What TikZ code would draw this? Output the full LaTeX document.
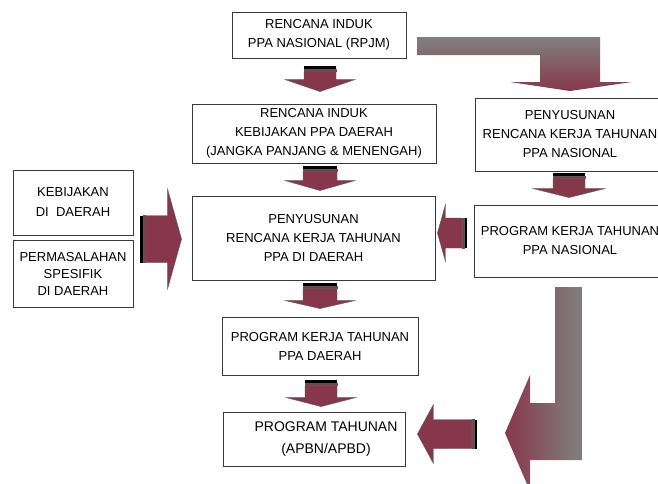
\documentclass[tikz,border=0pt]{standalone}
\usepackage{fontspec}
\setmainfont{Liberation Sans}
\usetikzlibrary{calc}
\definecolor{arrowMaroon}{HTML}{87374B}
\definecolor{arrowGray}{HTML}{808080}
\definecolor{boxLine}{HTML}{3A3A3A}
\tikzset{
    pbox/.style={draw=boxLine, line width=0.9pt, fill=white, align=center, inner sep=0pt, text=black, font=\fontsize{13}{19}\selectfont},
    pfill/.style={fill=arrowMaroon, draw=black!65, line width=0.4pt, line join=miter}
}
% striped block arrow: tail, tip, half shaft, half head, head length
\newcommand{\blockarrow}[5]{%
    \coordinate (bt) at #1;
    \coordinate (bh) at #2;
    \coordinate (s1) at ($(bt)!2.5pt!(bh)$);
    \coordinate (s2) at ($(bt)!3.1pt!(bh)$);
    \coordinate (s3) at ($(bt)!4.6pt!(bh)$);
    \coordinate (s4) at ($(bt)!5.2pt!(bh)$);
    \coordinate (bb) at ($(bh)!#5!(bt)$);
    \fill[black] ($(bt)!#3!90:(bh)$) -- ($(s1)!#3!90:(bh)$) -- ($(s1)!#3!-90:(bh)$) -- ($(bt)!#3!-90:(bh)$) -- cycle;
    \filldraw[pfill] ($(s2)!#3!90:(bh)$) -- ($(s3)!#3!90:(bh)$) -- ($(s3)!#3!-90:(bh)$) -- ($(s2)!#3!-90:(bh)$) -- cycle;
    \filldraw[pfill] ($(s4)!#3!90:(bh)$) -- ($(bb)!#3!90:(bh)$) -- ($(bb)!#4!90:(bh)$) -- (bh)
        -- ($(bb)!#4!-90:(bh)$) -- ($(bb)!#3!-90:(bh)$) -- ($(s4)!#3!-90:(bh)$) -- cycle;
}

\begin{document}
\begin{tikzpicture}[x=1pt, y=-1pt]
    \useasboundingbox (0,0) rectangle (658,483);
    \clip (0,0) rectangle (658,483);

    % boxes
    \node[pbox, minimum width=174pt, minimum height=46pt] (b1) at (319,35) {RENCANA INDUK\\PPA NASIONAL (RPJM)};
    \node[pbox, minimum width=244pt, minimum height=59pt] (b2) at (314,133.5) {RENCANA INDUK\\KEBIJAKAN PPA DAERAH\\(JANGKA PANJANG \& MENENGAH)};
    \node[pbox, minimum width=190pt, minimum height=73pt] (b3) at (570,134.5) {PENYUSUNAN\\RENCANA KERJA TAHUNAN\\PPA NASIONAL};
    \node[pbox, minimum width=191pt, minimum height=72pt] (b4) at (570,241) {PROGRAM KERJA TAHUNAN\\PPA NASIONAL};
    \node[pbox, minimum width=243pt, minimum height=84pt] (b5) at (313.5,238) {PENYUSUNAN\\RENCANA KERJA TAHUNAN\\PPA DI DAERAH};
    \node[pbox, minimum width=120pt, minimum height=65pt, font=\fontsize{13}{20}\selectfont] (b6) at (73,202.5) {KEBIJAKAN\\DI\ \ DAERAH};
    \node[pbox, minimum width=120pt, minimum height=67pt, font=\fontsize{13}{17}\selectfont] (b7) at (73,273.5) {PERMASALAHAN\\SPESIFIK\\DI DAERAH};
    \node[pbox, minimum width=196pt, minimum height=58pt] (b8) at (320,346) {PROGRAM KERJA TAHUNAN\\PPA DAERAH};
    \node[pbox, minimum width=182pt, minimum height=54pt, font=\fontsize{14}{22}\selectfont] (b9) at (314,439) {\hspace*{24pt}PROGRAM TAHUNAN\\\hspace*{24pt}(APBN/APBD)};

    % bent arrows
    \shade[top color=arrowGray, bottom color=arrowMaroon] (417,37) -- (600,37) -- (600,82) -- (632,82) -- (570,91)
        -- (510,82) -- (540,82) -- (540,55) -- (417,55) -- cycle;
    \shade[left color=arrowMaroon, right color=arrowGray] (555,287) -- (582,287) -- (582,460) -- (530,460) -- (530,491)
        -- (505,433) -- (530,375) -- (530,403) -- (555,403) -- cycle;
    \coordinate (bend) at (505,434);

    % striped arrows
    \blockarrow{($(b1.south)+(1,8)$)}{($(b1.south |- b2.north)+(1,-12)$)}{16pt}{35pt}{12pt}
    \blockarrow{($(b2.south)+(6,3)$)}{($(b2.south |- b5.north)+(6,-5)$)}{17pt}{35pt}{10pt}
    \blockarrow{($(b5.south)+(6.5,3)$)}{($(b5.south |- b8.north)+(6.5,-8)$)}{17pt}{35pt}{8pt}
    \blockarrow{($(b8.south)+(1,5)$)}{($(b8.south |- b9.north)+(1,-5)$)}{16pt}{35pt}{9pt}
    \blockarrow{($(b3.south)+(-1,2)$)}{($(b3.south |- b4.north)+(-1,-7)$)}{16pt}{36pt}{9pt}
    \blockarrow{($(b6.east |- b5.west)+(7,1)$)}{($(b5.west)+(-10,1)$)}{23.5pt}{50pt}{14pt}
    \blockarrow{($(b4.west |- b5.east)+(-7,-5)$)}{($(b5.east)+(2,-5)$)}{15pt}{28.5pt}{8pt}
    \blockarrow{($(bend)+(-28,0)$)}{($(b9.east)+(12,-5)$)}{14.5pt}{29.5pt}{16pt}
\end{tikzpicture}
\end{document}
